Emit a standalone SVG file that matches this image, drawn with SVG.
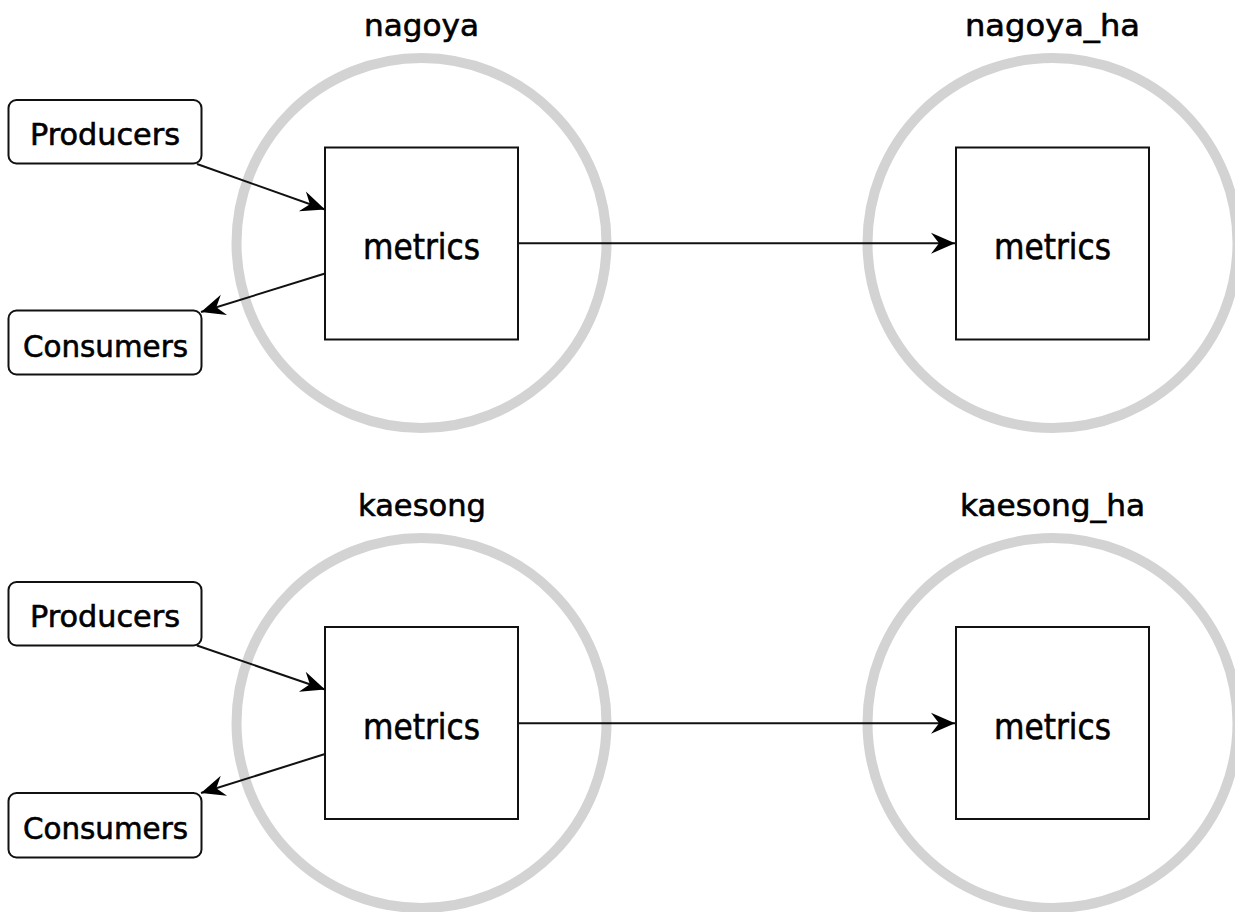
<svg xmlns="http://www.w3.org/2000/svg" width="1235" height="912" viewBox="0 0 1235 912">
<style>
  .ring{fill:none;stroke:#d3d3d3;stroke-width:10}
  .box{fill:#fff;stroke:#111;stroke-width:2}
  .pill{fill:#fff;stroke:#111;stroke-width:2}
  .edge{fill:none;stroke:#111;stroke-width:2}
  text{font-family:"DejaVu Sans","Liberation Sans",sans-serif;fill:#000;stroke:#000;stroke-width:0.6;text-anchor:middle}
  .lbl{font-size:30px}
  .met{font-size:35px}
  .pc{font-size:30px}
</style>
<defs>
  <marker id="arr" markerUnits="userSpaceOnUse" markerWidth="30" markerHeight="24" viewBox="-25 -12 30 24" refX="0" refY="0" orient="auto" overflow="visible">
    <path d="M0,0 L-24,-10.5 L-16,0 L-24,10.5 Z" fill="#000"/>
  </marker>
</defs>
<rect width="1235" height="912" fill="#fff"/>

<g id="nagoya">
  <circle class="ring" cx="421.5" cy="243" r="185"/>
  <text class="lbl" x="421.5" y="36" textLength="115" lengthAdjust="spacingAndGlyphs">nagoya</text>
</g>
<g id="nagoya_ha">
  <circle class="ring" cx="1052.5" cy="243" r="185"/>
  <text class="lbl" x="1052.5" y="36" textLength="175" lengthAdjust="spacingAndGlyphs">nagoya_ha</text>
</g>
<g id="kaesong">
  <circle class="ring" cx="421.5" cy="723" r="185"/>
  <text class="lbl" x="422" y="516" textLength="128" lengthAdjust="spacingAndGlyphs">kaesong</text>
</g>
<g id="kaesong_ha">
  <circle class="ring" cx="1052.5" cy="723" r="185"/>
  <text class="lbl" x="1052.5" y="516" textLength="185" lengthAdjust="spacingAndGlyphs">kaesong_ha</text>
</g>

<g id="nagoya_metrics">
  <rect class="box" x="325" y="147.5" width="193" height="192"/>
  <text class="met" x="421.5" y="259" textLength="117" lengthAdjust="spacingAndGlyphs">metrics</text>
</g>
<g id="nagoya_ha_metrics">
  <rect class="box" x="956" y="147.5" width="193" height="192"/>
  <text class="met" x="1052.5" y="259" textLength="117" lengthAdjust="spacingAndGlyphs">metrics</text>
</g>
<g id="kaesong_metrics">
  <rect class="box" x="325" y="627" width="193" height="192"/>
  <text class="met" x="421.5" y="738.5" textLength="117" lengthAdjust="spacingAndGlyphs">metrics</text>
</g>
<g id="kaesong_ha_metrics">
  <rect class="box" x="956" y="627" width="193" height="192"/>
  <text class="met" x="1052.5" y="738.5" textLength="117" lengthAdjust="spacingAndGlyphs">metrics</text>
</g>

<g id="producers_top">
  <rect class="pill" x="8.5" y="100" width="193" height="63.5" rx="8"/>
  <text class="pc" x="105" y="145" textLength="150" lengthAdjust="spacingAndGlyphs">Producers</text>
</g>
<g id="consumers_top">
  <rect class="pill" x="8.5" y="310.5" width="193" height="64" rx="8"/>
  <text class="pc" x="105.5" y="356.5" textLength="165" lengthAdjust="spacingAndGlyphs">Consumers</text>
</g>
<g id="producers_bottom">
  <rect class="pill" x="8.5" y="582" width="193" height="63.5" rx="8"/>
  <text class="pc" x="105" y="626.5" textLength="150" lengthAdjust="spacingAndGlyphs">Producers</text>
</g>
<g id="consumers_bottom">
  <rect class="pill" x="8.5" y="793" width="193" height="64.5" rx="8"/>
  <text class="pc" x="105.5" y="839" textLength="165" lengthAdjust="spacingAndGlyphs">Consumers</text>
</g>

<g id="connectors">
  <line class="edge" x1="197" y1="164" x2="325" y2="209.5" marker-end="url(#arr)"/>
  <line class="edge" x1="325" y1="273.5" x2="201" y2="312" marker-end="url(#arr)"/>
  <line class="edge" x1="518" y1="243.3" x2="955" y2="243.3" marker-end="url(#arr)"/>
  <line class="edge" x1="197" y1="645.5" x2="325" y2="689.5" marker-end="url(#arr)"/>
  <line class="edge" x1="325" y1="754" x2="201" y2="793" marker-end="url(#arr)"/>
  <line class="edge" x1="518" y1="723.3" x2="955" y2="723.3" marker-end="url(#arr)"/>
</g>
</svg>
